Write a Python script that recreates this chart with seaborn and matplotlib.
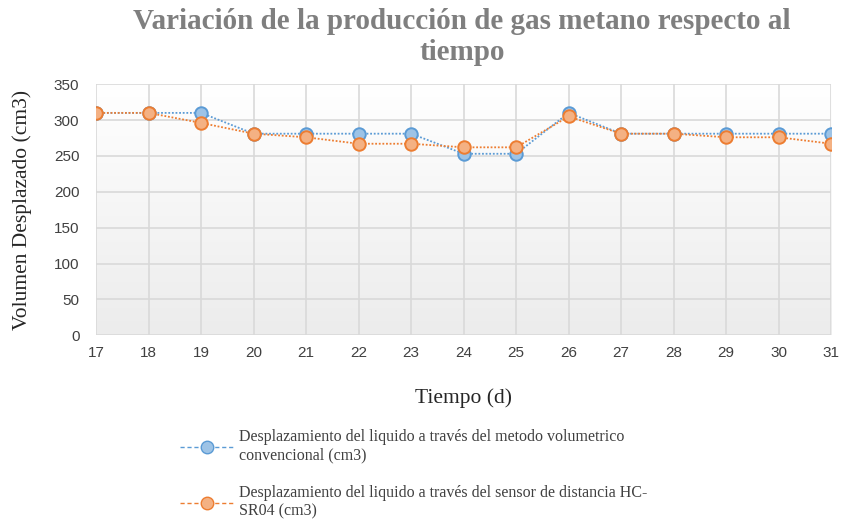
import numpy as np
import pandas as pd
import matplotlib
matplotlib.use("Agg")
import matplotlib.pyplot as plt
import seaborn as sns
from matplotlib.colors import LinearSegmentedColormap
from matplotlib.lines import Line2D

dias = [17, 18, 19, 20, 21, 22, 23, 24, 25, 26, 27, 28, 29, 30, 31]
volumetrico = [310, 310, 310, 281, 281, 281, 281, 253, 253, 310, 281, 281, 281, 281, 281]
sensor = [310, 310, 296, 281, 276, 267, 267, 262, 262, 305, 281, 281, 276, 276, 267]
serie1 = "Desplazamiento del liquido a través del metodo volumetrico\nconvencional (cm3)"
serie2 = "Desplazamiento del liquido a través del sensor de distancia HC-\nSR04 (cm3)"
yticks = [0, 50, 100, 150, 200, 250, 300, 350]

df = pd.DataFrame({"dia": dias * 2,
                   "vol": volumetrico + sensor,
                   "serie": [serie1] * len(dias) + [serie2] * len(dias)})

sns.set_style("white")
fig = plt.figure(figsize=(8.43, 5.23), dpi=100)
ax = fig.add_axes([0.114, 0.359, 0.872, 0.48])

# gradient background
grad = np.linspace(0, 1, 256).reshape(-1, 1)
cmap = LinearSegmentedColormap.from_list("g", ["#ffffff", "#ececec"])
ax.imshow(grad, aspect="auto", cmap=cmap, extent=(0, 1, 0, 1),
          transform=ax.transAxes, zorder=0, origin="upper")

blue, orange = "#5b9bd5", "#ed7d31"
palette = {serie1: blue, serie2: orange}
sns.lineplot(data=df, x="dia", y="vol", hue="serie", palette=palette, ax=ax,
             marker="o", markersize=9, linewidth=1.3,
             markeredgewidth=1.4, zorder=3, legend=False)
fills = {blue: "#9dc3e6", orange: "#f4b183"}
for line, c in zip(ax.lines, [blue, orange]):
    line.set_markerfacecolor(fills[c])
    line.set_markeredgecolor(c)
    line.set_linestyle((0, (1.0, 1.0)))

ax.set_xlim(17, 31)
ax.set_ylim(0, 350)
ax.set_xticks(dias)
ax.set_yticks(yticks)
ax.grid(True, color="#d9d9d9", linewidth=1.2, zorder=1)
ax.set_axisbelow(True)
for s in ax.spines.values():
    s.set_visible(False)
ax.tick_params(axis="both", labelsize=11, colors="#404040", length=0)
ax.tick_params(axis="x", pad=8)
ax.tick_params(axis="y", pad=12)
for lab in ax.get_xticklabels() + ax.get_yticklabels():
    lab.set_fontfamily("Liberation Sans")
ax.set_xlabel("Tiempo (d)", fontsize=15.5, family="Liberation Serif", color="#262626", labelpad=20)
ax.set_ylabel("Volumen Desplazado (cm3)", fontsize=15.5, family="Liberation Serif", color="#262626", labelpad=16)

fig.text(0.548, 0.985, "Variación de la producción de gas metano respecto al\ntiempo",
         ha="center", va="top", fontsize=21, fontweight="bold",
         family="Liberation Serif", color="#7f7f7f", linespacing=1.2)

handles = [Line2D([], [], color=blue, linestyle=(0, (3, 2)), linewidth=1,
                  marker="o", markersize=9, markerfacecolor=fills[blue], markeredgecolor=blue),
           Line2D([], [], color=orange, linestyle=(0, (3, 2)), linewidth=1,
                  marker="o", markersize=9, markerfacecolor=fills[orange], markeredgecolor=orange)]
fig.legend(handles, [serie1, serie2], loc="upper left", bbox_to_anchor=(0.197, 0.207),
           frameon=False, prop={"family": "Liberation Serif", "size": 11.5},
           handlelength=3.3, labelspacing=1.35, handletextpad=0.35, labelcolor="#404040")

fig.savefig("out.png", dpi=100)
